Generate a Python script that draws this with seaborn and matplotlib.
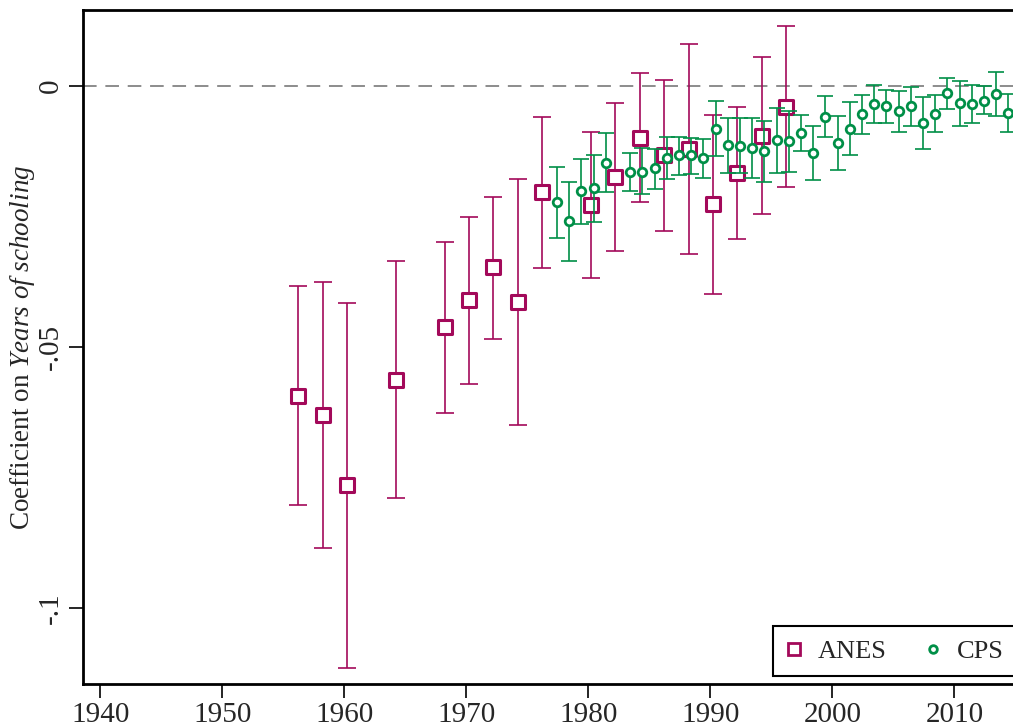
import numpy as np
import pandas as pd
import matplotlib
matplotlib.use("Agg")
import matplotlib.pyplot as plt
import seaborn as sns
from matplotlib.lines import Line2D

# ---- data ----
anes_year = [1956, 1958, 1960, 1964, 1968, 1970, 1972, 1974, 1976, 1980, 1982,
             1984, 1986, 1988, 1990, 1992, 1994, 1996]
anes_coef = [-0.0594, -0.0631, -0.0765, -0.0563, -0.0461, -0.0410, -0.0347, -0.0414,
             -0.0204, -0.0228, -0.0174, -0.0099, -0.0132, -0.0120, -0.0227, -0.0166,
             -0.0095, -0.0040]
anes_hi = [-0.0384, -0.0376, -0.0416, -0.0336, -0.0299, -0.0251, -0.0213, -0.0178,
           -0.0059, -0.0088, -0.0032, 0.0025, 0.0012, 0.0080, -0.0055, -0.0040,
           0.0056, 0.0114]
anes_lo = [-0.0803, -0.0886, -0.1114, -0.0789, -0.0626, -0.0570, -0.0484, -0.0650,
           -0.0348, -0.0368, -0.0316, -0.0222, -0.0278, -0.0322, -0.0399, -0.0293,
           -0.0245, -0.0193]

cps_year = [1977, 1978, 1979, 1980, 1981, 1983, 1984, 1985, 1986, 1987, 1988, 1989,
            1990, 1991, 1992, 1993, 1994, 1995, 1996, 1997, 1998, 1999, 2000, 2001,
            2002, 2003, 2004, 2005, 2006, 2007, 2008, 2009, 2010, 2011, 2012, 2013, 2014]
cps_coef = [-0.0222, -0.0259, -0.0202, -0.0195, -0.0147, -0.0165, -0.0164, -0.0158,
            -0.0138, -0.0133, -0.0133, -0.0138, -0.0082, -0.0113, -0.0114, -0.0118,
            -0.0125, -0.0104, -0.0105, -0.0090, -0.0128, -0.0059, -0.0109, -0.0082,
            -0.0054, -0.0034, -0.0039, -0.0048, -0.0039, -0.0070, -0.0053, -0.0014,
            -0.0033, -0.0034, -0.0028, -0.0015, -0.0052]
cps_hi = [-0.0155, -0.0183, -0.0140, -0.0132, -0.0090, -0.0128, -0.0119, -0.0121,
          -0.0098, -0.0097, -0.0099, -0.0102, -0.0029, -0.0061, -0.0062, -0.0061,
          -0.0068, -0.0043, -0.0047, -0.0056, -0.0076, -0.0020, -0.0057, -0.0031,
          -0.0017, 0.0001, -0.0007, -0.0009, -0.0002, -0.0021, -0.0017, 0.0016,
          0.0010, 0.0001, 0.0000, 0.0027, -0.0016]
cps_lo = [-0.0291, -0.0335, -0.0264, -0.0261, -0.0204, -0.0201, -0.0207, -0.0197,
          -0.0179, -0.0170, -0.0168, -0.0176, -0.0134, -0.0166, -0.0167, -0.0176,
          -0.0183, -0.0167, -0.0164, -0.0125, -0.0181, -0.0098, -0.0161, -0.0133,
          -0.0092, -0.0070, -0.0071, -0.0088, -0.0077, -0.0120, -0.0089, -0.0045,
          -0.0076, -0.0070, -0.0054, -0.0057, -0.0089]

x_ticks = [1940, 1950, 1960, 1970, 1980, 1990, 2000, 2010]
y_ticks = [0, -0.05, -0.1]
y_tick_labels = ["0", "-.05", "-.1"]
series_names = ["ANES", "CPS"]

# ---- style ----
sns.set_style("ticks")
plt.rcParams["font.family"] = ["Liberation Serif", "DejaVu Serif"]
plt.rcParams["mathtext.fontset"] = "custom"
plt.rcParams["mathtext.rm"] = "Liberation Serif"
plt.rcParams["mathtext.it"] = "Liberation Serif:italic"

ANES_C = "#A3095A"
CPS_C = "#008F47"
FS_TICK = 21
FS_LAB = 19.5
FS_LEG = 19

anes = pd.DataFrame({"x": np.array(anes_year) + 0.21, "y": anes_coef,
                     "lo": anes_lo, "hi": anes_hi})
cps = pd.DataFrame({"x": np.array(cps_year) + 0.42, "y": cps_coef,
                    "lo": cps_lo, "hi": cps_hi})

fig = plt.figure(figsize=(10.13, 7.24), dpi=100)
W, H = 1013, 724
x0, x1 = 1938.57, 2016.0
px_per_year = 12.2
ax_w_px = (x1 - x0) * px_per_year
ax = fig.add_axes([83 / W, (H - 684) / H, ax_w_px / W, (684 - 10) / H])
ax.set_xlim(x0, x1)
ax.set_ylim(-0.11456, 0.01456)

ax.axhline(0, color="#8c8c8c", lw=1.4, ls=(0, (7, 4.5)), zorder=1)

# ANES
ax.errorbar(anes["x"], anes["y"],
            yerr=[anes["y"] - anes["lo"], anes["hi"] - anes["y"]],
            fmt="none", ecolor=ANES_C, elinewidth=1.2, capsize=6.5, capthick=1.2, zorder=2)
sns.scatterplot(data=anes, x="x", y="y", ax=ax, marker="s", s=95,
                facecolor="white", edgecolor=ANES_C, linewidth=2.2, zorder=3)
# CPS
ax.errorbar(cps["x"], cps["y"],
            yerr=[cps["y"] - cps["lo"], cps["hi"] - cps["y"]],
            fmt="none", ecolor=CPS_C, elinewidth=1.2, capsize=6, capthick=1.2, zorder=4)
sns.scatterplot(data=cps, x="x", y="y", ax=ax, marker="o", s=38,
                facecolor="white", edgecolor=CPS_C, linewidth=2.0, zorder=5)

ax.set_xticks(x_ticks)
ax.set_xticklabels([str(t) for t in x_ticks], fontsize=FS_TICK)
ax.set_yticks(y_ticks)
ax.set_yticklabels(y_tick_labels, fontsize=FS_TICK, rotation=90, va="center")
ax.tick_params(axis="both", length=10, width=1.2, color="black")
ax.tick_params(axis="x", pad=3)
ax.tick_params(axis="y", pad=4)
ax.set_xlabel("")
ax.set_ylabel(r"Coefficient on $\mathit{Years\ of\ schooling}$", fontsize=FS_LAB)
ax.yaxis.set_label_coords((37 - 83) / ax_w_px, 0.5)

for side in ["left", "bottom", "top"]:
    ax.spines[side].set_visible(True)
    ax.spines[side].set_linewidth(2.0)
    ax.spines[side].set_color("black")
ax.spines["right"].set_visible(False)

handles = [
    Line2D([], [], marker="s", ls="none", markersize=9, markerfacecolor="white",
           markeredgecolor=ANES_C, markeredgewidth=2.0),
    Line2D([], [], marker="o", ls="none", markersize=5.5, markerfacecolor="white",
           markeredgecolor=CPS_C, markeredgewidth=2.0),
]
leg = fig.legend(handles, series_names, loc="lower left",
                 bbox_to_anchor=(773 / W, (H - 676) / H), bbox_transform=fig.transFigure,
                 ncol=2, fontsize=FS_LEG, frameon=True, fancybox=False, edgecolor="black",
                 framealpha=1, borderaxespad=0, handletextpad=0.6, columnspacing=1.45,
                 handlelength=0.6, borderpad=0.5)
leg.get_frame().set_linewidth(1.5)

fig.savefig("out.png", dpi=100)
